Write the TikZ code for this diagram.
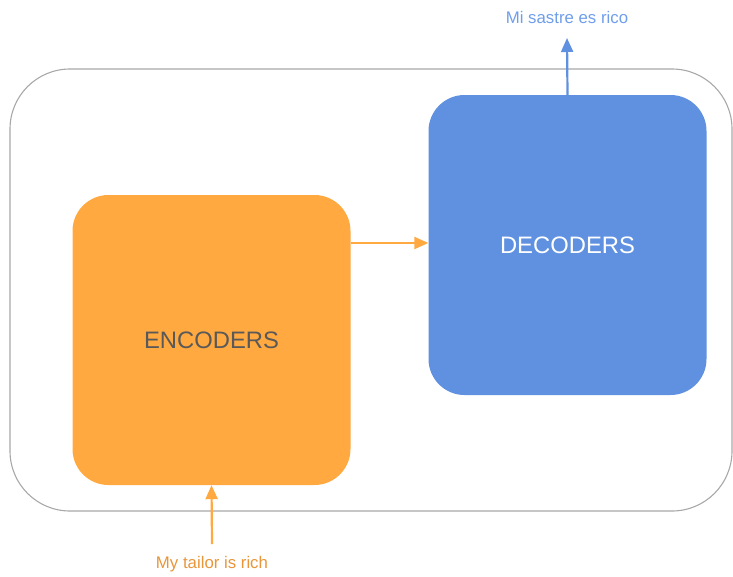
\documentclass[tikz,border=0pt]{standalone}
\usepackage{fontspec}
\setmainfont{Liberation Sans}
\usetikzlibrary{arrows.meta}
\definecolor{encfill}{HTML}{FFA940}
\definecolor{decfill}{HTML}{5F91E0}
\definecolor{enctext}{HTML}{E8963A}
\definecolor{dectext}{HTML}{6F9EEA}
\definecolor{outline}{HTML}{A8A8A8}
\tikzset{
  box/.style={rounded corners=36pt, minimum width=278pt, inner sep=0pt, font=\fontsize{23.8}{27}\selectfont},
  enc/.style={box, fill=encfill, text=black!65, minimum height=290pt},
  dec/.style={box, fill=decfill, text=white, minimum height=300pt},
  encarrow/.style={draw=encfill, line width=2.2pt, -{Triangle[length=14pt,width=12pt]}},
  decarrow/.style={draw=decfill, line width=2.2pt, -{Triangle[length=14pt,width=12pt]}},
  lbl/.style={font=\fontsize{16.8}{19}\selectfont, inner sep=0pt}
}
\begin{document}
\begin{tikzpicture}[x=1pt,y=-1pt]
\useasboundingbox (0,0) rectangle (733,576);
\node[draw=outline, line width=1.1pt, rounded corners=60pt, minimum width=722pt, minimum height=442pt, inner sep=0pt] (outer) at (371,290) {};
\node[enc] (encoders) at (211.5,340) {ENCODERS};
\node[dec] (decoders) at (567.5,245) {DECODERS};
\node[lbl, text=enctext] (input) at (212,564) {My tailor is rich};
\node[lbl, text=dectext] (output) at (567,17) {Mi sastre es rico};
\coordinate (inbot) at (212,544);
\coordinate (outtop) at (567,38);
\draw[encarrow] (inbot) -- (encoders.south);
\draw[encarrow] (encoders.east |- 0,243) -- (decoders.west |- 0,243);
\draw[decarrow] (decoders.north) -- (outtop);
\end{tikzpicture}
\end{document}
